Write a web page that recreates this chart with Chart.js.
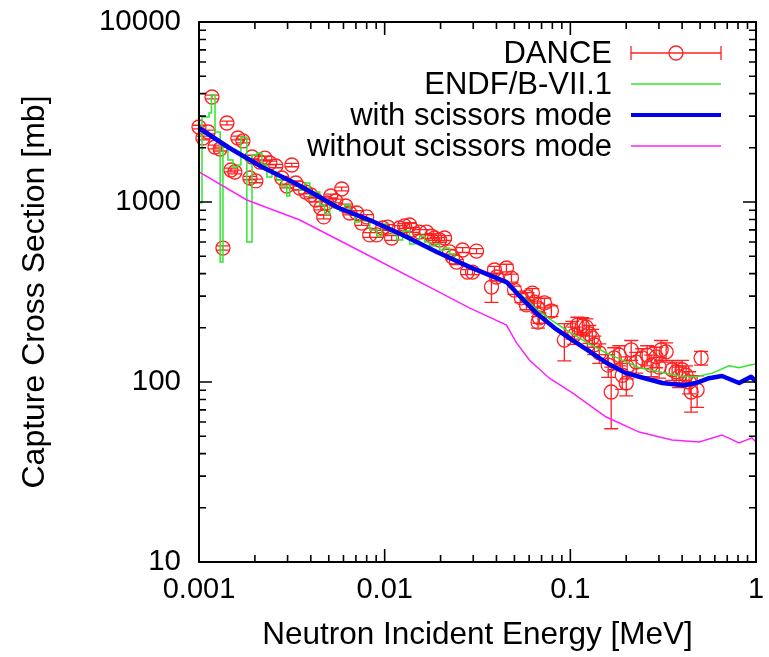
<!DOCTYPE html>
<html>
<head>
<meta charset="utf-8">
<script src="https://cdn.jsdelivr.net/npm/chart.js@4.4.0/dist/chart.umd.min.js"></script>
<style>
  html, body { margin: 0; padding: 0; background: #ffffff; }
  canvas { display: block; }
</style>
</head>
<body>
<canvas id="chart" width="769" height="657"></canvas>
<script>
// DANCE measurement: neutron energy (MeV), capture cross section (mb), uncertainty (mb)
const danceE = [
  0.00100, 0.00105, 0.00112, 0.001175, 0.00122, 0.00130, 0.001346, 0.001414, 0.001486, 0.00156,
  0.00162, 0.001724, 0.00188, 0.00193, 0.002025, 0.00213, 0.002264, 0.002408, 0.002594, 0.002794,
  0.002972, 0.003162, 0.003322, 0.003491, 0.003761, 0.00400, 0.004256, 0.004529, 0.004699, 0.004877,
  0.005125, 0.005453, 0.005873, 0.00617, 0.006484, 0.007071, 0.007518, 0.00800, 0.008305, 0.009057,
  0.009755, 0.01038, 0.0109, 0.01204, 0.01281, 0.01363, 0.01414, 0.01543, 0.01682, 0.01789,
  0.01857, 0.01976, 0.02102, 0.02237, 0.0232, 0.02438, 0.02627, 0.02794, 0.02972, 0.03124,
  0.03761, 0.03903, 0.04001, 0.04529, 0.04818, 0.05002, 0.05453, 0.05873, 0.05801, 0.06245,
  0.06402, 0.06648, 0.06813, 0.07248, 0.07904, 0.0670, 0.09284, 0.1025, 0.1091, 0.1051,
  0.116, 0.1219, 0.1265, 0.1313, 0.1346, 0.1432, 0.166, 0.160, 0.1724, 0.1834,
  0.1904, 0.2001, 0.2025, 0.2128, 0.2264, 0.2438, 0.2594, 0.2726, 0.290, 0.3009,
  0.3084, 0.3281, 0.3534, 0.3715, 0.3855, 0.4001, 0.4205, 0.4364, 0.4473, 0.4818,
  0.5063
];
const danceXS = [
  2610, 2268, 2448, 3831, 2021, 1970, 555, 2748, 1506, 1468,
  2268, 2183, 1359, 1778, 1309, 1668, 1755, 1647, 1585, 1359,
  1227, 1605, 1275, 1196, 1136, 1094, 1026, 926, 826, 987,
  1080, 1013, 1181, 950, 869, 869, 764, 826, 656, 656,
  717, 726, 631, 717, 736, 745, 699, 681, 681, 647,
  631, 615, 631, 528, 495, 464, 541, 408, 408, 534,
  337, 419, 383, 430, 378, 324, 293, 297, 268, 312,
  278, 258, 227, 275, 248, 215, 171, 195, 207, 182,
  205, 202, 185, 176, 161, 145, 88, 124, 136, 141,
  109, 98.7, 121, 151, 129, 136, 141, 124, 138, 121,
  151, 147, 117, 114, 107, 117, 109, 100, 88, 90.3,
  136
];
const danceErr = [
  60, 55, 60, 90, 50, 50, 15, 65, 35, 35,
  55, 50, 30, 40, 30, 40, 40, 40, 35, 30,
  30, 35, 30, 28, 27, 26, 25, 22, 20, 24,
  26, 24, 28, 22, 21, 26, 23, 25, 20, 20,
  22, 22, 19, 22, 22, 23, 21, 21, 21, 20,
  19, 19, 20, 17, 16, 15, 17, 13, 13, 17,
  60, 20, 19, 21, 19, 17, 17, 17, 16, 18,
  17, 16, 15, 17, 17, 16, 40, 22, 22, 20,
  23, 22, 21, 20, 19, 18, 33, 18, 19, 18,
  18, 15, 17, 19, 17, 17, 18, 17, 18, 16,
  19, 18, 15, 15, 14, 15, 14, 14, 20, 18,
  12
];

// ENDF/B-VII.1, resolved-resonance region (histogram, each value holds up to the next energy)
const endfStepE = [
  0.00100, 0.001038, 0.001132, 0.001167, 0.00122, 0.00130, 0.001346, 0.001432, 0.001523, 0.00162,
  0.001682, 0.00181, 0.00193, 0.00205, 0.00218, 0.00232, 0.00247, 0.00262, 0.00279, 0.00297,
  0.00308, 0.00328, 0.00349, 0.00372, 0.00395, 0.00420, 0.00447, 0.00475, 0.00506, 0.00538,
  0.00573, 0.00609, 0.00648, 0.00690, 0.00734, 0.00780, 0.00830, 0.00906, 0.00964, 0.01025,
  0.0109, 0.0116, 0.0125, 0.01363, 0.0145, 0.01543, 0.0164, 0.01745, 0.01857, 0.01976,
  0.02102, 0.02237, 0.0238, 0.0250
];
const endfStepXS = [
  990, 2965, 3122, 3930, 2448, 464, 2073, 1711, 1565, 1605,
  2290, 600, 1824, 1872, 1605, 1377, 1468, 1326, 1226, 1080,
  1292, 1243, 1166, 1275, 1080, 1136, 962, 858, 987, 926,
  891, 962, 869, 774, 815, 784, 699, 647, 755, 717,
  664, 615, 690, 584, 615, 647, 600, 570, 584, 541,
  555, 514, 480, 462
];
// ENDF/B-VII.1, smooth region
const endfE = [
  0.0250, 0.0305, 0.0367, 0.0442, 0.0480, 0.0520, 0.0665, 0.0820, 0.101, 0.1265, 0.156,
  0.195, 0.235, 0.300, 0.386, 0.475, 0.580, 0.716, 0.811, 0.917, 1.0
];
const endfXS = [
  462, 425, 398, 366, 345, 318, 251, 215, 187, 163, 145,
  131, 120, 114, 108, 107, 112, 123, 120, 124, 126
];

// Hauser-Feshbach calculation including the M1 scissors mode
const withE = [
  0.00100, 0.00143, 0.00218, 0.00328, 0.00475, 0.00566, 0.0083, 0.0125, 0.0191, 0.0286,
  0.0453, 0.0513, 0.0655, 0.082, 0.1026, 0.128, 0.156, 0.200, 0.235, 0.313,
  0.406, 0.475, 0.558, 0.656, 0.811, 0.940, 1.0
];
const withXS = [
  2577, 2021, 1565, 1275, 1026, 926, 794, 656, 528, 436,
  359, 313, 242, 200, 171, 147, 128, 112, 107, 98.7,
  96, 98.7, 105, 108, 98.7, 107, 101
];

// Same calculation without the scissors mode
const withoutE = [
  0.00100, 0.00181, 0.00349, 0.0083, 0.0191, 0.0286, 0.0453, 0.0513, 0.0603, 0.0771,
  0.1026, 0.156, 0.235, 0.353, 0.494, 0.656, 0.811, 0.951, 1.0
];
const withoutXS = [
  1468, 1026, 794, 501, 321, 258, 207, 165, 132, 105,
  86.9, 63.9, 52.7, 47.6, 46.4, 50.8, 45.8, 48.9, 46.4
];

// Axis decades and their labels
const xTickValues = [0.001, 0.01, 0.1, 1];
const xTickLabels = ['0.001', '0.01', '0.1', '1'];
const yTickValues = [10, 100, 1000, 10000];
const yTickLabels = ['10', '100', '1000', '10000'];

const FONT = '"Liberation Sans", Arial, Helvetica, sans-serif';
const RED = '#ff2020';
const GREEN = '#2fe62f';
const BLUE = '#0000f0';
const MAGENTA = '#ff20ff';

const pts = (xs, ys) => xs.map((x, i) => ({ x: x, y: ys[i] }));

// Vertical error bars with end caps, drawn under the curves
const errorBars = {
  id: 'errorBars',
  beforeDatasetsDraw(chart) {
    const { ctx, scales: { x, y } } = chart;
    const cap = 7;
    ctx.save();
    ctx.strokeStyle = RED;
    ctx.lineWidth = 1.3;
    ctx.beginPath();
    danceE.forEach((e, i) => {
      const px = x.getPixelForValue(e);
      const top = y.getPixelForValue(danceXS[i] + danceErr[i]);
      const bot = y.getPixelForValue(Math.max(danceXS[i] - danceErr[i], 1e-3));
      ctx.moveTo(px, top); ctx.lineTo(px, bot);
      ctx.moveTo(px - cap, top); ctx.lineTo(px + cap, top);
      ctx.moveTo(px - cap, bot); ctx.lineTo(px + cap, bot);
    });
    ctx.stroke();
    ctx.restore();
  }
};

// Plot border with inward major/minor tick marks on all four sides
const frameTicks = {
  id: 'frameTicks',
  afterDatasetsDraw(chart) {
    const { ctx, chartArea: a, scales: { x, y } } = chart;
    const major = 13, minor = 7;
    ctx.save();
    ctx.strokeStyle = '#000';
    ctx.lineWidth = 1.6;
    ctx.beginPath();
    xTickValues.forEach((d, k) => {
      for (let m = 1; m <= 9; m++) {
        if (m > 1 && k === xTickValues.length - 1) break;
        const px = x.getPixelForValue(d * m);
        const len = m === 1 ? major : minor;
        ctx.moveTo(px, a.bottom); ctx.lineTo(px, a.bottom - len);
        ctx.moveTo(px, a.top); ctx.lineTo(px, a.top + len);
      }
    });
    yTickValues.forEach((d, k) => {
      for (let m = 1; m <= 9; m++) {
        if (m > 1 && k === yTickValues.length - 1) break;
        const py = y.getPixelForValue(d * m);
        const len = m === 1 ? major : minor;
        ctx.moveTo(a.left, py); ctx.lineTo(a.left + len, py);
        ctx.moveTo(a.right, py); ctx.lineTo(a.right - len, py);
      }
    });
    ctx.stroke();
    ctx.lineWidth = 2;
    ctx.strokeRect(a.left, a.top, a.right - a.left, a.bottom - a.top);
    ctx.restore();
  }
};

// Key in the upper right: right-aligned text with a line sample beside it
const keyBox = {
  id: 'keyBox',
  afterDraw(chart) {
    const ctx = chart.ctx;
    const entries = chart.data.datasets.filter(d => d.keyRow !== undefined)
      .sort((p, q) => p.keyRow - q.keyRow);
    const textRight = 612, x0 = 631, x1 = 721, yStart = 53, step = 31;
    ctx.save();
    ctx.font = '31px ' + FONT;
    ctx.textAlign = 'right';
    ctx.textBaseline = 'middle';
    entries.forEach(ds => {
      const yy = yStart + ds.keyRow * step;
      ctx.fillStyle = '#000';
      ctx.fillText(ds.label, textRight, yy + 1);
      ctx.strokeStyle = ds.borderColor;
      ctx.lineWidth = ds.keyWidth;
      ctx.beginPath();
      ctx.moveTo(x0, yy); ctx.lineTo(x1, yy);
      if (ds.keyErrorBar) {
        ctx.moveTo(x0, yy - 7); ctx.lineTo(x0, yy + 7);
        ctx.moveTo(x1, yy - 7); ctx.lineTo(x1, yy + 7);
      }
      ctx.stroke();
      if (ds.keyErrorBar) {
        ctx.beginPath();
        ctx.arc((x0 + x1) / 2, yy, 7, 0, Math.PI * 2);
        ctx.stroke();
      }
    });
    ctx.restore();
  }
};

new Chart(document.getElementById('chart'), {
  type: 'scatter',
  data: {
    datasets: [
      {
        label: 'without scissors mode',
        data: pts(withoutE, withoutXS),
        showLine: true, pointRadius: 0, borderColor: MAGENTA, borderWidth: 1.5,
        tension: 0, order: 1, keyRow: 3, keyWidth: 1.5
      },
      {
        label: 'with scissors mode',
        data: pts(withE, withXS),
        showLine: true, pointRadius: 0, borderColor: BLUE, borderWidth: 4.5,
        tension: 0, order: 2, keyRow: 2, keyWidth: 4, borderJoinStyle: 'round'
      },
      {
        label: 'ENDF/B-VII.1',
        data: pts(endfE, endfXS),
        showLine: true, pointRadius: 0, borderColor: GREEN, borderWidth: 1.5,
        tension: 0, order: 3, keyRow: 1, keyWidth: 1.5
      },
      {
        label: 'ENDF/B-VII.1 resonances',
        data: pts(endfStepE, endfStepXS),
        showLine: true, stepped: 'before', pointRadius: 0, borderColor: GREEN, borderWidth: 1.5,
        order: 4
      },
      {
        label: 'DANCE',
        data: pts(danceE, danceXS),
        showLine: false, pointStyle: 'circle', pointRadius: 7, pointBorderWidth: 1.3,
        borderColor: RED, pointBorderColor: RED, backgroundColor: 'rgba(0,0,0,0)',
        pointBackgroundColor: 'rgba(0,0,0,0)', clip: 12, order: 5,
        keyRow: 0, keyWidth: 1.3, keyErrorBar: true
      }
    ]
  },
  options: {
    responsive: false,
    animation: false,
    devicePixelRatio: 1,
    events: [],
    layout: { padding: { left: 0, right: 13, top: 22, bottom: 0 } },
    plugins: { legend: { display: false }, tooltip: { enabled: false } },
    scales: {
      x: {
        type: 'logarithmic',
        position: 'bottom',
        min: 0.001, max: 1,
        grid: { display: false, drawTicks: false },
        border: { display: false },
        afterBuildTicks: s => { s.ticks = xTickValues.map(v => ({ value: v })); },
        afterFit: s => { s.height = 95; s.paddingLeft = 0; s.paddingRight = 0; },
        ticks: {
          autoSkip: false, maxRotation: 0, padding: 11, color: '#000',
          font: { family: FONT, size: 29 },
          callback: v => xTickLabels[xTickValues.indexOf(v)]
        },
        title: {
          display: true, text: 'Neutron Incident Energy [MeV]', color: '#000',
          font: { family: FONT, size: 31.5 }, padding: { top: 0, bottom: 3 }
        }
      },
      y: {
        type: 'logarithmic',
        position: 'left',
        min: 10, max: 10000,
        grid: { display: false, drawTicks: false },
        border: { display: false },
        afterBuildTicks: s => { s.ticks = yTickValues.map(v => ({ value: v })); },
        afterFit: s => { s.width = 199; s.paddingTop = 0; s.paddingBottom = 0; },
        ticks: {
          autoSkip: false, padding: 18, color: '#000',
          font: { family: FONT, size: 29.5 },
          callback: v => yTickLabels[yTickValues.indexOf(v)]
        },
        title: {
          display: true, text: 'Capture Cross Section [mb]', color: '#000',
          font: { family: FONT, size: 32 }, padding: { top: 16, bottom: 0 }
        }
      }
    }
  },
  plugins: [errorBars, frameTicks, keyBox]
});
</script>
</body>
</html>
